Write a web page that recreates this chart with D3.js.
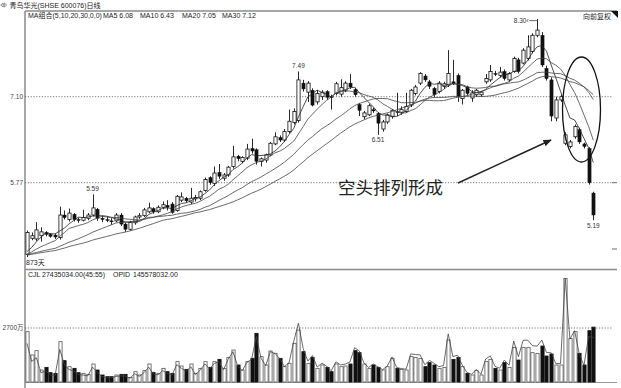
<!DOCTYPE html>
<html>
<head>
<meta charset="utf-8">
<script src="https://cdn.jsdelivr.net/npm/d3@7"></script>
<style>
  html, body { margin: 0; padding: 0; background: #fff; }
  svg { display: block; }
  text { font-family: "Liberation Sans", "Noto Sans CJK SC", sans-serif; }
</style>
</head>
<body>
<svg id="chart" width="621" height="388"></svg>
<script>
// Daily candles, oldest first
const opens = [4.66,4.91,4.90,4.95,5.00,4.97,4.96,4.92,5.27,5.20,5.28,5.20,5.19,5.22,5.27,5.36,5.22,5.20,5.18,5.18,
  5.27,5.13,5.05,5.15,5.24,5.26,5.32,5.37,5.32,5.39,5.42,5.44,5.34,5.50,5.53,5.47,5.52,5.53,5.65,5.85,
  5.76,5.93,5.84,5.89,6.02,6.18,6.10,6.15,6.30,6.28,6.10,6.12,6.20,6.37,6.47,6.43,6.56,6.70,6.73,7.31,
  7.17,7.20,7.02,7.10,7.18,7.10,7.15,7.14,7.20,7.31,7.21,6.98,6.79,6.82,6.90,6.84,6.60,6.71,6.79,6.87,
  6.86,6.87,6.97,7.15,7.31,7.42,7.33,7.23,7.18,7.26,7.28,7.33,7.43,7.07,7.25,7.08,7.13,7.13,7.33,7.36,
  7.46,7.43,7.49,7.36,7.49,7.67,7.62,7.69,7.80,8.05,8.05,7.54,7.36,6.77,7.05,6.38,6.33,6.48,6.59,6.37,
  6.30,5.61];
const highs = [5.03,5.00,5.16,5.08,5.02,4.99,4.98,5.40,5.34,5.37,5.30,5.23,5.35,5.30,5.59,5.38,5.26,5.24,5.22,5.30,
  5.30,5.15,5.18,5.26,5.30,5.38,5.46,5.39,5.42,5.48,5.50,5.47,5.58,5.62,5.55,5.69,5.58,5.65,5.85,5.87,
  6.02,6.06,5.92,6.03,6.34,6.20,6.18,6.37,6.45,6.30,6.16,6.22,6.40,6.55,6.50,6.60,6.90,6.92,7.49,7.36,
  7.34,7.23,7.20,7.20,7.20,7.13,7.33,7.37,7.34,7.45,7.24,7.00,6.88,6.99,6.93,6.86,6.74,6.84,6.91,7.16,
  6.95,7.16,7.22,7.28,7.48,7.45,7.36,7.25,7.34,7.33,7.82,7.67,7.46,7.22,7.27,7.20,7.22,7.19,7.45,7.59,
  7.50,7.56,7.52,7.48,7.72,7.70,7.85,8.05,8.08,8.30,8.10,7.58,7.40,7.10,7.13,6.55,6.43,6.67,6.62,6.39,
  6.32,5.63];
const lows = [4.62,4.88,4.87,4.86,4.94,4.92,4.90,4.89,5.20,5.17,5.17,5.15,5.17,5.19,5.25,5.18,5.16,5.16,5.12,5.16,
  5.10,5.01,5.03,5.12,5.21,5.24,5.30,5.29,5.30,5.36,5.34,5.29,5.32,5.47,5.46,5.44,5.48,5.50,5.63,5.74,
  5.72,5.83,5.80,5.86,5.99,6.10,6.07,6.12,6.22,6.05,6.02,6.08,6.18,6.35,6.40,6.40,6.53,6.67,6.70,7.18,
  7.02,6.95,6.98,7.05,7.05,6.90,7.12,7.10,7.17,7.22,7.10,6.80,6.75,6.80,6.85,6.51,6.56,6.68,6.76,6.80,
  6.82,6.85,6.94,7.12,7.28,7.33,7.22,7.10,7.15,7.22,7.25,7.28,7.02,6.98,7.12,7.02,7.10,7.10,7.30,7.33,
  7.42,7.40,7.35,7.33,7.47,7.46,7.60,7.66,7.77,8.02,7.56,7.35,6.72,6.72,7.02,6.35,6.30,6.45,6.37,6.30,
  5.74,5.19];
const closes = [5.00,4.95,5.04,5.01,4.97,4.94,4.93,5.27,5.23,5.30,5.20,5.19,5.23,5.27,5.38,5.22,5.20,5.19,5.17,5.27,
  5.13,5.05,5.16,5.24,5.26,5.35,5.38,5.32,5.39,5.43,5.39,5.31,5.56,5.55,5.49,5.53,5.54,5.63,5.82,5.77,
  5.92,5.87,5.89,6.01,6.17,6.14,6.16,6.29,6.26,6.10,6.14,6.20,6.38,6.48,6.43,6.56,6.72,6.87,7.36,7.22,
  7.31,6.97,7.15,7.17,7.09,7.09,7.30,7.24,7.31,7.25,7.13,6.89,6.85,6.96,6.88,6.69,6.71,6.82,6.89,6.86,
  6.90,6.95,7.20,7.25,7.46,7.36,7.26,7.13,7.31,7.30,7.46,7.30,7.10,7.20,7.15,7.16,7.20,7.17,7.38,7.49,
  7.45,7.48,7.38,7.46,7.69,7.49,7.82,7.87,8.05,8.13,7.59,7.38,6.80,7.05,7.10,6.51,6.40,6.64,6.40,6.33,
  5.77,5.27];
// Closes before the first drawn day, feeding the moving averages
const priorCloses = [4.60,4.63,4.66,4.62,4.59,4.64,4.68,4.65,4.61,4.63,4.67,4.70,4.66,4.62,4.64,
  4.66,4.61,4.63,4.65,4.68,4.64,4.60,4.63,4.66,4.62,4.64,4.61,4.63,4.65];
// Daily volume, in 万 shares
const volumes = [2517,1350,1567,600,733,467,433,2017,1067,767,683,467,433,383,900,600,350,267,267,350,
  383,383,233,517,350,567,900,483,433,683,517,433,1017,800,633,900,433,683,1017,733,
  1017,1133,683,1233,1600,850,600,1017,1183,2433,1267,850,1550,1433,1183,767,933,1933,2600,1517,
  933,1233,683,850,733,517,900,767,800,900,1567,1467,900,683,850,733,600,767,1183,683,
  633,600,1267,1233,1183,767,967,850,683,733,2100,1133,1233,767,433,350,567,350,1017,1133,
  683,600,967,733,1733,1100,1733,1733,1467,1433,1800,1300,1400,850,850,5183,2183,2517,1433,850,
  2567,2743.5034];

const maPeriods = [5, 10, 20, 30];
const maValues = [6.08, 6.43, 7.05, 7.12];
const priceTicks = [7.10, 5.77];
const volTicks = [2700];
const titleText = "青鸟华光(SHSE 600076)日线";
const legendHead = "MA组合(5,10,20,30,0,0)";
const noteText = "空头排列形成";
const spanText = "873天";
const opidValue = "145578032.00";

const svg = d3.select("#chart");
const left = 25, right = 617;
const n = closes.length;

const x = d3.scaleLinear().domain([0, n - 1]).range([27, 593.3]);
const y = d3.scaleLinear().domain([5.77, 7.10]).range([182.7, 96.7]);
const yVol = d3.scaleLinear().domain([0, 2700]).range([382, 328]);

// frame lines
const frame = svg.append("g").attr("stroke", "#8a8a8a").attr("stroke-width", 1.5);
frame.append("line").attr("x1", left).attr("x2", right).attr("y1", 11).attr("y2", 11);
frame.append("line").attr("x1", left).attr("x2", left).attr("y1", 11).attr("y2", 388);
frame.append("line").attr("x1", left).attr("x2", right).attr("y1", 269.5).attr("y2", 269.5);
svg.append("line").attr("x1", left).attr("x2", right).attr("y1", 382.5).attr("y2", 382.5)
  .attr("stroke", "#9a9a9a").attr("stroke-width", 1);

// corner marker and adjustment label
svg.append("path").attr("d", "M611,11L618,11L618,18Z").attr("fill", "#111");
svg.append("text").attr("x", 611).attr("y", 18.5).attr("text-anchor", "end")
  .attr("font-size", 7).attr("fill", "#222").text("向前复权");

// title with a small switch glyph in front
const glyph = svg.append("g").attr("fill", "none").attr("stroke", "#666").attr("stroke-width", 0.7);
glyph.append("path").attr("d", "M3.2,3L0.8,5L3.2,7Z");
glyph.append("path").attr("d", "M4.3,3L6.7,5L4.3,7Z");
svg.append("text").attr("x", 9.5).attr("y", 8).attr("font-size", 7).attr("fill", "#222").text(titleText);

// MA legend
const legendX = [103, 140, 182, 222];
svg.append("text").attr("x", 28).attr("y", 18).attr("font-size", 7).attr("fill", "#222").text(legendHead);
maPeriods.forEach((p, k) => {
  svg.append("text").attr("x", legendX[k]).attr("y", 18).attr("font-size", 7).attr("fill", "#222")
    .text(`MA${p} ${maValues[k].toFixed(2)}`);
});

// price grid
const grid = svg.append("g");
priceTicks.forEach(t => {
  grid.append("line").attr("x1", left).attr("x2", 612).attr("y1", y(t)).attr("y2", y(t))
    .attr("stroke", "#555").attr("stroke-width", 0.8).attr("stroke-dasharray", "1.2,1.6");
  grid.append("text").attr("x", 23).attr("y", y(t) + 2.3).attr("text-anchor", "end")
    .attr("font-size", 6.5).attr("fill", "#444").text(t.toFixed(2));
});
[y(5.77), 249].forEach(v => {
  grid.append("line").attr("x1", 612).attr("x2", 617).attr("y1", v).attr("y2", v)
    .attr("stroke", "#444").attr("stroke-width", 0.8);
});

// clip for the price panel
svg.append("clipPath").attr("id", "pclip").append("rect")
  .attr("x", left).attr("y", 12).attr("width", right - left).attr("height", 257);
const price = svg.append("g").attr("clip-path", "url(#pclip)");

// candles
const candles = price.append("g");
d3.range(n).forEach(i => {
  const up = closes[i] >= opens[i];
  const cx = Math.round(x(i)) + 0.5;
  candles.append("line").attr("x1", cx).attr("x2", cx)
    .attr("y1", y(highs[i])).attr("y2", y(lows[i]))
    .attr("stroke", "#111").attr("stroke-width", 0.9);
  const top = y(Math.max(opens[i], closes[i]));
  const h = Math.max(1, Math.abs(y(opens[i]) - y(closes[i])));
  candles.append("rect").attr("x", cx - 1.6).attr("width", 3.2)
    .attr("y", top).attr("height", h)
    .attr("fill", up ? "#fff" : "#111")
    .attr("stroke", "#111").attr("stroke-width", up ? 0.8 : 0.4);
});

// moving averages of the close
const allCloses = priorCloses.concat(closes);
const k0 = priorCloses.length;
const maLine = d3.line().x((d, i) => x(i)).y(d => y(d));
maPeriods.forEach((p, k) => {
  const series = d3.range(n).map(i => d3.mean(allCloses.slice(k0 + i - p + 1, k0 + i + 1)));
  price.append("path").datum(series).attr("d", maLine)
    .attr("fill", "none").attr("stroke", k === 0 ? "#222" : "#444").attr("stroke-width", 0.8);
});

// high / low labels, read from the candle data
const marks = svg.append("g").attr("font-size", 6.5).attr("fill", "#333").attr("text-anchor", "middle");
[14, 58].forEach(i => {
  marks.append("text").attr("x", x(i)).attr("y", y(highs[i]) - 3).text(highs[i].toFixed(2));
});
[75, 121].forEach(i => {
  marks.append("text").attr("x", x(i)).attr("y", y(lows[i]) + 7.5).text(lows[i].toFixed(2));
});
const hiIdx = d3.maxIndex(highs);
marks.append("line").attr("x1", x(hiIdx) - 8).attr("x2", x(hiIdx) + 0.5)
  .attr("y1", y(highs[hiIdx]) + 1.5).attr("y2", y(highs[hiIdx]) + 1.5)
  .attr("stroke", "#333").attr("stroke-width", 0.7);
marks.append("text").attr("x", x(hiIdx) - 8.5).attr("y", y(highs[hiIdx]) + 3.8)
  .attr("text-anchor", "end").text(highs[hiIdx].toFixed(2) + "‹");

// annotation: ellipse, arrow and text
svg.append("ellipse").attr("cx", 581.5).attr("cy", 109.5).attr("rx", 19).attr("ry", 52.5)
  .attr("fill", "none").attr("stroke", "#111").attr("stroke-width", 1.3);
svg.append("defs").append("marker").attr("id", "ah")
  .attr("viewBox", "0 0 10 10").attr("refX", 9).attr("refY", 5)
  .attr("markerWidth", 6).attr("markerHeight", 6).attr("orient", "auto")
  .append("path").attr("d", "M0,1L10,5L0,9Z").attr("fill", "#222");
svg.append("line").attr("x1", 458).attr("y1", 183).attr("x2", 551).attr("y2", 140)
  .attr("stroke", "#222").attr("stroke-width", 1.4).attr("marker-end", "url(#ah)");
svg.append("text").attr("x", 338).attr("y", 194).attr("font-size", 17.5)
  .attr("font-family", "'Noto Sans CJK SC', sans-serif").attr("fill", "#222").text(noteText);

// lower panel captions
svg.append("text").attr("x", 26).attr("y", 265).attr("font-size", 7).attr("fill", "#222").text(spanText);
const volLast = volumes[n - 1];
svg.append("text").attr("x", 28).attr("y", 277).attr("font-size", 7).attr("fill", "#222").text("CJL");
svg.append("text").attr("x", 42).attr("y", 277).attr("font-size", 7).attr("fill", "#222")
  .text(`${(volLast * 10000).toFixed(2)}(45:55)`);
svg.append("text").attr("x", 113).attr("y", 277).attr("font-size", 7).attr("fill", "#222").text("OPID");
svg.append("text").attr("x", 133).attr("y", 277).attr("font-size", 7).attr("fill", "#222").text(opidValue);

// volume grid
volTicks.forEach(t => {
  svg.append("line").attr("x1", left).attr("x2", 612).attr("y1", yVol(t)).attr("y2", yVol(t))
    .attr("stroke", "#555").attr("stroke-width", 0.8).attr("stroke-dasharray", "1.2,1.6");
  svg.append("text").attr("x", 23.5).attr("y", yVol(t) + 2.3).attr("text-anchor", "end")
    .attr("font-size", 6.5).attr("fill", "#444").text(`${t}万`);
});

// volume bars
const vg = svg.append("g");
d3.range(n).forEach(i => {
  const up = closes[i] >= opens[i];
  const cx = Math.round(x(i)) + 0.5;
  vg.append("rect").attr("x", cx - 1.6).attr("width", 3.2)
    .attr("y", yVol(volumes[i])).attr("height", yVol(0) - yVol(volumes[i]))
    .attr("fill", up ? "#fff" : "#111").attr("stroke", up ? "#555" : "#111").attr("stroke-width", 0.8);
});

// turnover line (volume x close), scaled to share the volume peak
const amount = volumes.map((v, i) => v * closes[i]);
const yAmt = d3.scaleLinear().domain([0, d3.max(amount)]).range([yVol(0), yVol(d3.max(volumes))]);
svg.append("path").datum(amount)
  .attr("d", d3.line().x((d, i) => x(i)).y(d => yAmt(d)))
  .attr("fill", "none").attr("stroke", "#444").attr("stroke-width", 0.8);
</script>
</body>
</html>
